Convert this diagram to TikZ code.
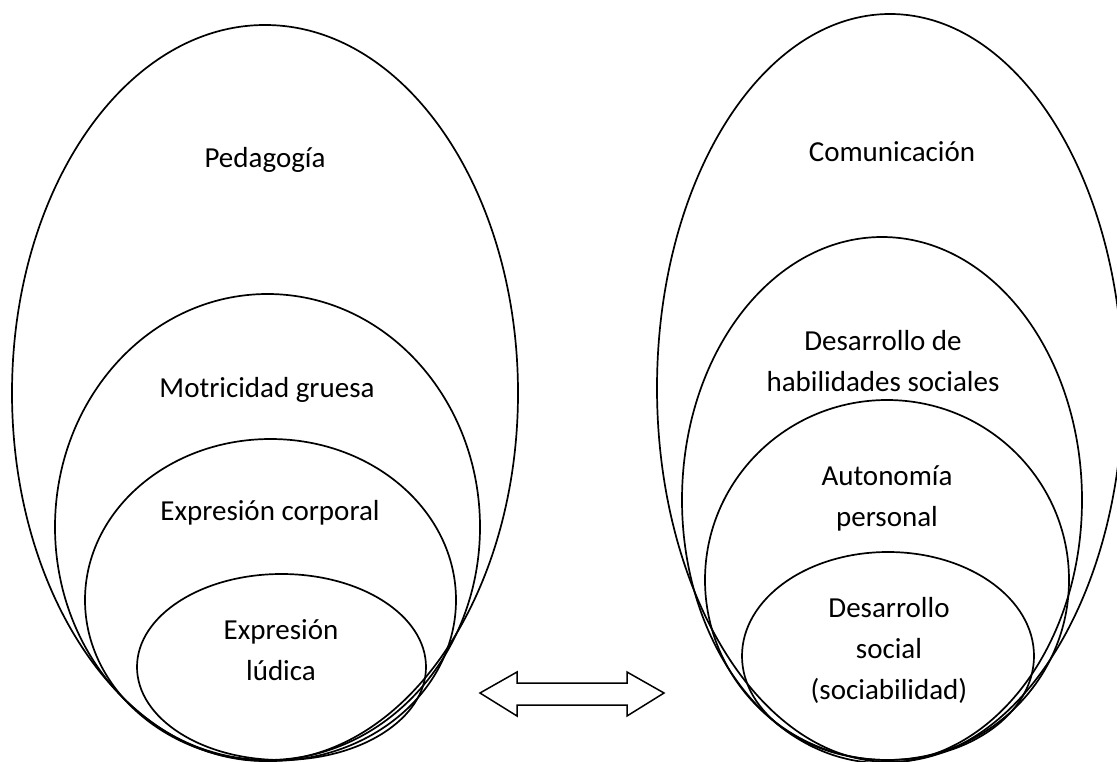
\documentclass[tikz,border=0pt]{standalone}
\usepackage{fontspec}
\setmainfont{Carlito}
\begin{document}
\begin{tikzpicture}[x=1pt,y=-1pt,
  ring/.style={line width=1.7pt},
  lbl/.style={font=\fontsize{29}{41}\selectfont, align=center, inner sep=0pt},
  dbl/.style={line width=1.5pt, line join=miter}]
\useasboundingbox (0,0) rectangle (1117,762);
% left group
\coordinate (L1) at (265,393);
\coordinate (L2) at (267.5,527);
\coordinate (L3) at (270.5,600);
\coordinate (L4) at (281.5,667);
\draw[ring] (L1) ellipse [x radius=253pt, y radius=368pt];
\draw[ring] (L2) ellipse [x radius=212.5pt, y radius=233pt];
\draw[ring] (L3) ellipse [x radius=185.5pt, y radius=161pt];
\draw[ring] (L4) ellipse [x radius=144.5pt, y radius=93pt];
\node[lbl] (ped) at (265,160) {Pedagogía};
\node[lbl] (mot) at (267,390) {Motricidad gruesa};
\node[lbl] (exc) at (270,513) {Expresión corporal};
\node[lbl] (exl) at (281,650) {Expresión\\lúdica};
% right group
\coordinate (R1) at (890,388);
\coordinate (R2) at (882,500);
\coordinate (R3) at (887,580);
\coordinate (R4) at (888,656);
\draw[ring] (R1) ellipse [x radius=233pt, y radius=374pt];
\draw[ring] (R2) ellipse [x radius=200pt, y radius=263pt];
\draw[ring] (R3) ellipse [x radius=182pt, y radius=180pt];
\draw[ring] (R4) ellipse [x radius=146pt, y radius=104pt];
\node[lbl] (com) at (892,152) {Comunicación};
\node[lbl] (dhs) at (883,361) {Desarrollo de\\habilidades sociales};
\node[lbl] (aut) at (887,498) {Autonomía\\personal};
\node[lbl] (dso) at (889,650) {Desarrollo\\social\\(sociabilidad)};
% double arrow
\draw[dbl] (480,693) -- (517,672) -- (517,683) -- (627,683) -- (627,672)
  -- (664,693) -- (627,716) -- (627,705) -- (517,705) -- (517,716) -- cycle;
\end{tikzpicture}
\end{document}
